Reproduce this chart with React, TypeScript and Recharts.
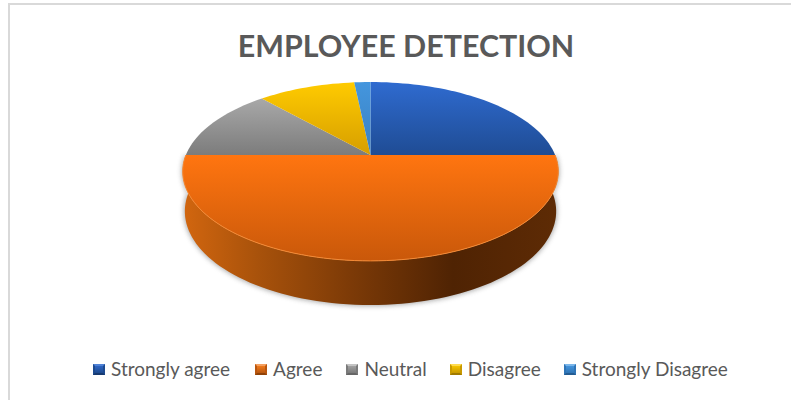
import { Legend, Pie, PieChart } from "recharts"

const categories = ["Strongly agree", "Agree", "Neutral", "Disagree", "Strongly Disagree"]
const responses = [15, 30, 8, 6, 1]
const topColors = ["url(#topBlue)", "url(#topOrange)", "url(#topGray)", "url(#topYellow)", "url(#topSky)"]
const swatches = [
  ["#2f66c4", "#1d4a8f", "#4f82d6", "#173a70"],
  ["#f07a1c", "#b8560f", "#f5a060", "#8f4208"],
  ["#a0a0a0", "#7a7a7a", "#c4c4c4", "#666666"],
  ["#f5c400", "#c99a00", "#ffdc50", "#a07a00"],
  ["#4494dc", "#2f74b5", "#7ab6ea", "#245c92"],
]

const chartData = categories.map((name, i) => ({
  name,
  value: responses[i],
  fill: topColors[i],
}))

// the tilted disc is a perspective projection of a circle
const CX = 370.5
const TOP_CY = 155
const BOTTOM_CY = 194
const TILT = 0.184

function project(deg: number, cy: number, rx: number, ry: number) {
  const a = (deg * Math.PI) / 180
  const u = Math.cos(a)
  const v = Math.sin(a)
  const d = 1 + TILT * v
  return [CX + (rx * u) / d, cy - (ry * v) / d]
}

const topPoint = (deg: number) => project(deg, TOP_CY, 184.6, 86.4)
const basePoint = (deg: number) => project(deg, BOTTOM_CY, 182.5, 90.6)

function arc(from: number, to: number, at: (deg: number) => number[]) {
  const steps = Math.max(2, Math.ceil(Math.abs(to - from) / 2))
  const pts: string[] = []
  for (let i = 0; i <= steps; i++) {
    const p = at(from + ((to - from) * i) / steps)
    pts.push(`${p[0].toFixed(2)} ${p[1].toFixed(2)}`)
  }
  return pts
}

function Slice(props: any) {
  const { startAngle, endAngle, fill } = props
  const rim = arc(startAngle, endAngle, topPoint).join("L")

  // only the slice facing the viewer gets a wall
  const hasWall = startAngle >= -90 && endAngle <= -90
  const wall = `M${rim}L${arc(endAngle, startAngle, basePoint).join("L")}Z`

  return (
    <g>
      {hasWall && <path d={wall} fill="#666" stroke="#666" strokeWidth={2} opacity={0.55} filter="url(#wallShadow)" />}
      {hasWall && <path d={wall} fill="url(#wallOrange)" />}
      <path d={`M${CX} ${TOP_CY}L${rim}Z`} fill={fill} />
      {hasWall && <path d={`M${rim}`} fill="none" stroke="#f58a35" strokeWidth={1} />}
    </g>
  )
}

function Swatch({ colors }: { colors: string[] }) {
  return (
    <span
      style={{
        display: "inline-block",
        boxSizing: "border-box",
        width: 12,
        height: 11,
        marginRight: 6,
        background: `linear-gradient(${colors[0]}, ${colors[1]})`,
        borderStyle: "solid",
        borderWidth: 2,
        borderColor: `${colors[2]} ${colors[1]} ${colors[3]} ${colors[1]}`,
      }}
    />
  )
}

function LegendRow(props: any) {
  const gaps = [25, 24, 23, 23, 0]
  return (
    <div style={{ display: "flex", alignItems: "center", color: "#595959", fontSize: 19, lineHeight: "22px", whiteSpace: "nowrap" }}>
      {(props.payload || []).map((entry: any, i: number) => (
        <span key={entry.value} style={{ display: "flex", alignItems: "center", marginRight: gaps[i] }}>
          <Swatch colors={swatches[i]} />
          {entry.value}
        </span>
      ))}
    </div>
  )
}

function vertical(id: string, y1: number, y2: number, from: string, to: string) {
  return (
    <linearGradient id={id} gradientUnits="userSpaceOnUse" x1="0" x2="0" y1={y1} y2={y2}>
      <stop offset="0" stopColor={from} />
      <stop offset="1" stopColor={to} />
    </linearGradient>
  )
}

export default function App() {
  return (
    <div style={{ position: "absolute", left: 0, top: 0, width: 791, height: 400, background: "#fff", fontFamily: "Lato, sans-serif" }}>
      <div style={{ position: "absolute", left: 8, top: 3, width: 783, height: 397, boxSizing: "border-box", borderLeft: "2px solid #d9d9d9", borderTop: "2px solid #d9d9d9" }} />
      <PieChart width={791} height={400} margin={{ top: 0, right: 0, bottom: 0, left: 0 }} style={{ position: "absolute", left: 0, top: 0 }}>
        <defs>
          {vertical("topBlue", 82, 155, "#2f6bd0", "#1f4c94")}
          {vertical("topOrange", 155, 261, "#ff7510", "#c9580a")}
          {vertical("topGray", 99, 155, "#a8a8a8", "#7c7c7c")}
          {vertical("topYellow", 82, 155, "#ffcb00", "#d69e00")}
          {vertical("topSky", 82, 155, "#4496de", "#3a80c0")}
          <linearGradient id="wallOrange" gradientUnits="userSpaceOnUse" x1="183" x2="558" y1="0" y2="0">
            <stop offset="0" stopColor="#d2660f" />
            <stop offset="0.2" stopColor="#a8520b" />
            <stop offset="0.45" stopColor="#7c3a07" />
            <stop offset="0.72" stopColor="#4f2303" />
            <stop offset="1" stopColor="#5e2b05" />
          </linearGradient>
          <filter id="wallShadow" x="-10%" y="-10%" width="120%" height="120%">
            <feGaussianBlur stdDeviation="2.5" />
          </filter>
        </defs>
        <text x={406} y={57} textAnchor="middle" fill="#595959" fontSize={30.4} fontWeight={700} fontFamily="Lato, sans-serif">
          EMPLOYEE DETECTION
        </text>
        <Pie
          data={chartData}
          dataKey="value"
          nameKey="name"
          cx={CX}
          cy={TOP_CY}
          outerRadius={185}
          startAngle={90}
          endAngle={-270}
          stroke="none"
          isAnimationActive={false}
          shape={Slice}
        />
        <Legend content={LegendRow} itemSorter={null} wrapperStyle={{ position: "absolute", left: 93, top: 358, width: 660, bottom: "auto" }} />
      </PieChart>
    </div>
  )
}
